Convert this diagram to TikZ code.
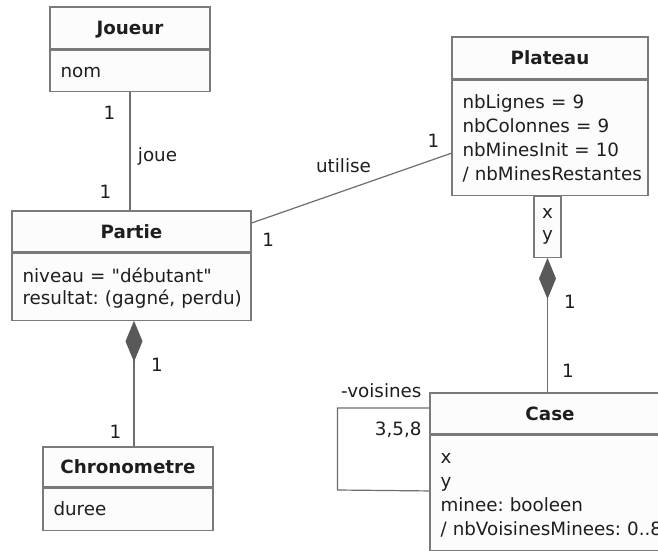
\documentclass[tikz,border=0pt]{standalone}
\usepackage{fontspec}
\setmainfont{DejaVu Sans}
\usetikzlibrary{positioning,arrows.meta}
\definecolor{UMLBorder}{HTML}{7A7A7A}
\definecolor{UMLLine}{HTML}{6E6E6E}
\definecolor{UMLFill}{HTML}{FCFCFC}
\definecolor{UMLText}{HTML}{1E1E1E}
\definecolor{UMLDiamond}{HTML}{595959}
\newcommand\umlstrut{\rule[-4pt]{0pt}{21pt}}
\frenchspacing

\begin{document}
\begin{tikzpicture}[x=1pt,y=-1pt,
  every node/.style={text=UMLText, font=\fontsize{18.3}{24}\selectfont},
  classhead/.style={draw=UMLBorder, fill=UMLFill, line width=1.2pt, inner sep=0pt,
    text height=13pt, text depth=0pt, font=\fontsize{18.3}{24}\selectfont\bfseries},
  classbody/.style={draw=UMLBorder, fill=UMLFill, line width=1.2pt, align=left,
    inner sep=0pt,
    execute at begin node={\leftskip=10.5pt\rightskip=-60pt plus 1fil\umlstrut},
    execute at end node=\umlstrut},
  qualbox/.style={draw=UMLBorder, fill=UMLFill, line width=1.2pt, align=center,
    inner sep=0pt, font=\fontsize{18.3}{22}\selectfont,
    execute at begin node=\umlstrut, execute at end node=\umlstrut},
  assoc/.style={draw=UMLLine, line width=1.2pt},
  compo/.style={assoc, {Diamond[length=41pt,width=17pt,color=UMLDiamond]}-},
  mult/.style={anchor=base}]
  \useasboundingbox (0,0) rectangle (658,551);
  \clip (0,0) rectangle (658,551);
  \fill[white] (0,0) rectangle (658,551);

  \node[classhead, minimum width=160pt, minimum height=42pt] (joueurhead) at (130,28) {Joueur};
  \node[classbody, below=0pt of joueurhead, minimum height=41pt, text width=160pt] (joueurbody) {nom};

  \node[classhead, minimum width=239pt, minimum height=41pt] (partiehead) at (131.5,231.5) {Partie};
  \node[classbody, below=0pt of partiehead, minimum height=67pt, text width=239pt,
    font=\fontsize{18.3}{19}\selectfont] (partiebody)
    {niveau = \textquotedbl débutant\textquotedbl\\resultat: (gagné, perdu)};

  \node[classhead, minimum width=170pt, minimum height=40pt] (chronohead) at (128,467) {Chronometre};
  \node[classbody, below=0pt of chronohead, minimum height=42pt, text width=170pt] (chronobody) {duree};

  \node[classhead, minimum width=196pt, minimum height=42pt] (plateauhead) at (550,58) {Plateau};
  \node[classbody, below=0pt of plateauhead, minimum height=115pt, text width=196pt] (plateaubody)
    {nbLignes = 9\\nbColonnes = 9\\nbMinesInit = 10\\/ nbMinesRestantes};
  \node[qualbox, anchor=north, minimum width=27pt, minimum height=61pt] (plateauqual) at ([xshift=-2.5pt]plateaubody.south) {x\\y};

  \node[classhead, minimum width=240pt, minimum height=41pt] (casehead) at (550,413.5) {Case};
  \node[classbody, below=0pt of casehead, minimum height=115.5pt, text width=240pt] (casebody)
    {x\\y\\minee: booleen\\/ nbVoisinesMinees: 0..8};

  \draw[assoc] (joueurbody.south) -- (joueurbody.south |- partiehead.north)
    node[mult, at start, xshift=-20.5pt, yshift=-28pt] (jpmulta) {1}
    node[mult, at start, xshift=27.5pt, yshift=-70pt] (jplabel) {joue}
    node[mult, at end, xshift=-24.5pt, yshift=12pt] (jpmultb) {1};
  \draw[assoc] ([yshift=8.5pt]partiehead.east) -- ([yshift=-15.5pt]plateaubody.west)
    node[mult, at start, xshift=16.5pt, yshift=-23pt] (ppmulta) {1}
    node[mult, midway, xshift=-8pt, yshift=15.5pt] (pplabel) {utilise}
    node[mult, at end, xshift=-18pt, yshift=6pt] (ppmultb) {1};
  \draw[compo] ([xshift=2.5pt]partiebody.south) -- ([xshift=6pt]chronohead.north)
    node[mult, at start, xshift=23pt, yshift=-51pt] (pcmulta) {1}
    node[mult, at end, xshift=-18.5pt, yshift=8pt] (pcmultb) {1};
  \draw[compo] (plateauqual.south) -- (plateauqual.south |- casehead.north)
    node[mult, at start, xshift=22.5pt, yshift=-50pt] (pkmulta) {1}
    node[mult, at end, xshift=20.5pt, yshift=15pt] (pkmultb) {1};
  \draw[assoc] ([yshift=5.5pt]casehead.west)
    node[mult, anchor=base east, xshift=-4pt, yshift=11pt] (voisrole) {-voisines}
    node[mult, anchor=base east, xshift=-4pt, yshift=-27pt] (voismult) {3,5,8}
    -| ++(-92,82) -- ([yshift=2pt]casebody.west);
\end{tikzpicture}
\end{document}
